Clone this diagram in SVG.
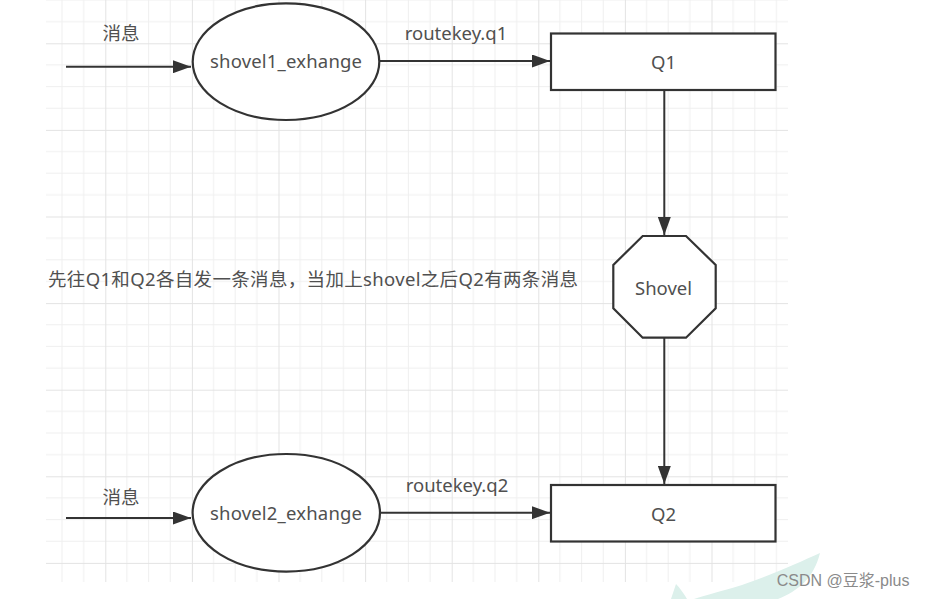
<svg xmlns="http://www.w3.org/2000/svg" width="925" height="599" viewBox="0 0 925 599">
<style>
.lbl{font-family:"Noto Sans","Noto Sans CJK SC",sans-serif;font-size:18.5px;fill:#505050;text-anchor:middle}
.shape{fill:#fff;stroke:#333;stroke-width:2.2}
.conn{fill:none;stroke:#333;stroke-width:2}
</style>
<defs>
<pattern id="grid" patternUnits="userSpaceOnUse" x="105.3" y="43.3" width="86.6" height="86.6">
<g stroke="#efefef" stroke-width="1">
<line x1="21.65" y1="0" x2="21.65" y2="86.6"/>
<line x1="43.3" y1="0" x2="43.3" y2="86.6"/>
<line x1="64.95" y1="0" x2="64.95" y2="86.6"/>
<line x1="0" y1="21.65" x2="86.6" y2="21.65"/>
<line x1="0" y1="43.3" x2="86.6" y2="43.3"/>
<line x1="0" y1="64.95" x2="86.6" y2="64.95"/>
</g>
<g stroke="#e3e3e3" stroke-width="1">
<line x1="0.5" y1="0" x2="0.5" y2="86.6"/>
<line x1="0" y1="0.5" x2="86.6" y2="0.5"/>
</g>
</pattern>
<marker id="arrow" markerUnits="userSpaceOnUse" markerWidth="18" markerHeight="13" refX="18" refY="6.5" orient="auto">
<path d="M0,0 L18,6.5 L0,13 Z" fill="#333"/>
</marker>
</defs>
<rect x="0" y="0" width="925" height="599" fill="#fff"/>
<rect x="46" y="0" width="742" height="582" fill="url(#grid)"/>

<g id="watermark-shape" fill="#dcf0eb">
<path d="M820 553 C800 562 772 575 742 585 C722 591 706 595 694 599 L778 599 C798 591 814 578 820 553 Z"/>
<path d="M671 599 L676 584 C680 588 684 594 687 599 Z"/>
</g>

<g id="connectors">
<path class="conn" d="M66 66.7 H191" marker-end="url(#arrow)"/>
<path class="conn" d="M379 61 H550" marker-end="url(#arrow)"/>
<path class="conn" d="M664.3 90 V235" marker-end="url(#arrow)"/>
<path class="conn" d="M664.3 338 V484" marker-end="url(#arrow)"/>
<path class="conn" d="M66 518 H191" marker-end="url(#arrow)"/>
<path class="conn" d="M380 512.7 H550" marker-end="url(#arrow)"/>
<text class="lbl" x="121" y="39.5">消息</text>
<text class="lbl" x="456" y="40">routekey.q1</text>
<text class="lbl" x="121" y="504">消息</text>
<text class="lbl" x="457" y="492">routekey.q2</text>
</g>

<g id="shovel1_exhange">
<ellipse class="shape" cx="286" cy="61.7" rx="93.3" ry="58.3"/>
<text class="lbl" x="286" y="68" textLength="152">shovel1_exhange</text>
</g>
<g id="Q1">
<rect class="shape" x="551" y="33.5" width="224.5" height="56.5"/>
<text class="lbl" x="663.5" y="69">Q1</text>
</g>
<g id="shovel">
<polygon class="shape" points="642.7,236 686,236 715.7,265 715.7,308.3 686,337.7 642.7,337.7 613.3,308.3 613.3,265"/>
<text class="lbl" x="663.5" y="295">Shovel</text>
</g>
<g id="shovel2_exhange">
<ellipse class="shape" cx="286.3" cy="512.8" rx="93.7" ry="58.8"/>
<text class="lbl" x="286" y="520" textLength="152">shovel2_exhange</text>
</g>
<g id="Q2">
<rect class="shape" x="551" y="485" width="224.5" height="56.5"/>
<text class="lbl" x="663.5" y="520.5">Q2</text>
</g>
<g id="note">
<text class="lbl" x="48" y="286" style="text-anchor:start" textLength="530">先往Q1和Q2各自发一条消息，当加上shovel之后Q2有两条消息</text>
</g>
<g id="watermark">
<text x="776.7" y="586" style="font-family:'Liberation Sans','Noto Sans CJK SC',sans-serif;font-size:16px;fill:#8a8a8a">CSDN @豆浆-plus</text>
</g>
</svg>
